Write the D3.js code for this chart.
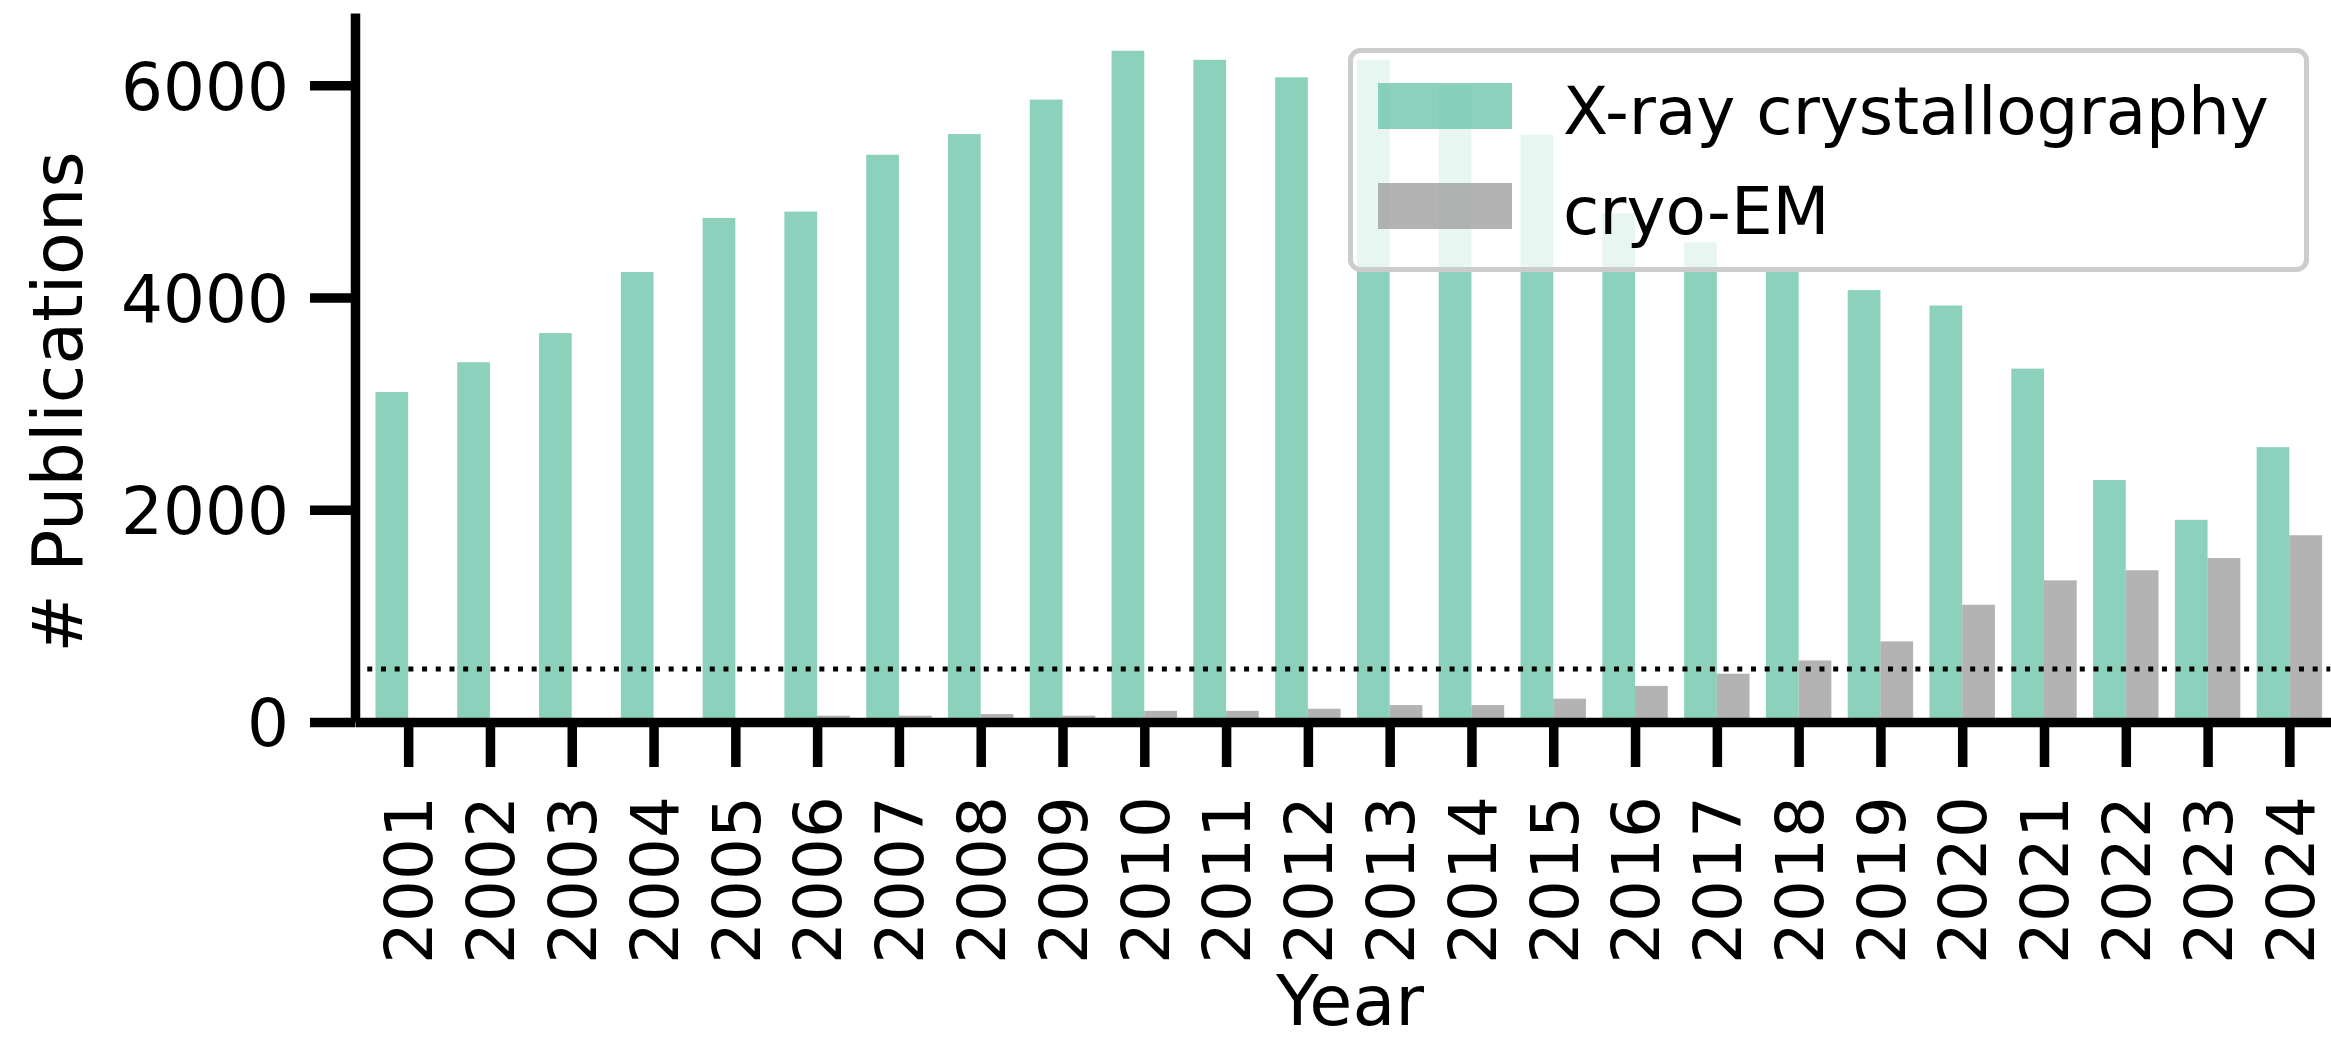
<!DOCTYPE html>
<html>
<head>
<meta charset="utf-8">
<script src="https://cdn.jsdelivr.net/npm/d3@7"></script>
<style>
  html, body { margin: 0; padding: 0; background: #fff; }
  svg { display: block; font-family: "DejaVu Sans", sans-serif; }
</style>
</head>
<body>
<div id="chart"></div>
<script>
const years = ["2001", "2002", "2003", "2004", "2005", "2006", "2007", "2008",
    "2009", "2010", "2011", "2012", "2013", "2014", "2015", "2016",
    "2017", "2018", "2019", "2020", "2021", "2022", "2023", "2024"];
const xray = [3110, 3390, 3665, 4240, 4750, 4810, 5345, 5540,
    5865, 6325, 6240, 6075, 6240, 6000, 5535, 4795,
    4520, 4285, 4070, 3925, 3330, 2280, 1905, 2590];
const cryoEM = [15, 18, 20, 25, 30, 60, 60, 75,
    60, 105, 105, 125, 160, 160, 220, 340,
    455, 580, 760, 1105, 1335, 1430, 1545, 1760];
const yTicks = [0, 2000, 4000, 6000];
const threshold = 500;
const seriesNames = ["X-ray crystallography", "cryo-EM"];
const seriesColors = ["#66c2a5", "#999999"];

const width = 2331;
const height = 1043;
const barW = 0.4;
const tickFont = 66;
const labelFont = 70;

const svg = d3.select("#chart").append("svg")
    .attr("width", width)
    .attr("height", height);

svg.append("rect").attr("width", width).attr("height", height).attr("fill", "#fff");

const x = d3.scaleLinear().domain([-0.65, 23.68]).range([355, 2345]);
const y = d3.scaleLinear().domain([0, 6681]).range([722, 13]);

const idx = years.map((d, i) => i);

// bars: x-ray left of the tick, cryo-EM right of it
const bars = svg.append("g");
bars.selectAll("rect.xray").data(xray).join("rect")
    .attr("class", "xray")
    .attr("x", (d, i) => x(i - barW))
    .attr("width", (d, i) => x(i) - x(i - barW))
    .attr("y", d => y(d))
    .attr("height", d => y(0) - y(d))
    .attr("fill", seriesColors[0])
    .attr("fill-opacity", 0.75);

bars.selectAll("rect.cryo").data(cryoEM).join("rect")
    .attr("class", "cryo")
    .attr("x", (d, i) => x(i))
    .attr("width", (d, i) => x(i + barW) - x(i))
    .attr("y", d => y(d))
    .attr("height", d => y(0) - y(d))
    .attr("fill", seriesColors[1])
    .attr("fill-opacity", 0.75);

// dotted reference line
svg.append("line")
    .attr("x1", x(-0.5)).attr("x2", x(idx.length - 0.5))
    .attr("y1", y(threshold)).attr("y2", y(threshold))
    .attr("stroke", "#000")
    .attr("stroke-width", 5)
    .attr("stroke-dasharray", "5,8.7");

// axes
const yAxis = svg.append("g")
    .attr("transform", `translate(${x.range()[0]},0)`)
    .call(d3.axisLeft(y).tickValues(yTicks).tickFormat(d3.format("d"))
        .tickSize(45).tickSizeOuter(0).tickPadding(21));

const xAxis = svg.append("g")
    .attr("transform", `translate(0,${y(0)})`)
    .call(d3.axisBottom(x).tickValues(idx).tickFormat(i => years[i])
        .tickSize(45).tickSizeOuter(0).tickPadding(0));

[yAxis, xAxis].forEach(g => {
    g.selectAll("path.domain").attr("stroke", "#000").attr("stroke-width", 9.5);
    g.selectAll(".tick line").attr("stroke", "#000").attr("stroke-width", 9.5);
    g.selectAll("text").attr("font-size", tickFont).attr("fill", "#000")
        .attr("font-family", "DejaVu Sans");
});

yAxis.selectAll(".tick text").attr("dy", "0.36em");

xAxis.selectAll(".tick text")
    .attr("y", 0)
    .attr("dy", "0.36em")
    .attr("text-anchor", "end")
    .attr("transform", "translate(0,74) rotate(-90)");

// axis labels
svg.append("text")
    .attr("transform", "translate(82,402) rotate(-90)")
    .attr("text-anchor", "middle")
    .attr("font-size", labelFont)
    .text("# Publications");

svg.append("text")
    .attr("x", (x.range()[0] + x.range()[1]) / 2)
    .attr("y", 1025)
    .attr("text-anchor", "middle")
    .attr("font-size", labelFont)
    .text("Year");

// legend
const legend = svg.append("g");
legend.append("rect")
    .attr("x", 1350.5).attr("y", 50.5)
    .attr("width", 956).attr("height", 219)
    .attr("rx", 10)
    .attr("fill", "#fff").attr("fill-opacity", 0.8)
    .attr("stroke", "#cccccc").attr("stroke-width", 5);

const rows = legend.selectAll("g.row").data(seriesNames).join("g")
    .attr("class", "row")
    .attr("transform", (d, i) => `translate(0,${i * 100})`);

rows.append("rect")
    .attr("x", 1378).attr("y", 83)
    .attr("width", 134).attr("height", 46)
    .attr("fill", (d, i) => seriesColors[i])
    .attr("fill-opacity", 0.75);

rows.append("text")
    .attr("x", 1563).attr("y", 134)
    .attr("font-size", tickFont)
    .text(d => d);
</script>
</body>
</html>
